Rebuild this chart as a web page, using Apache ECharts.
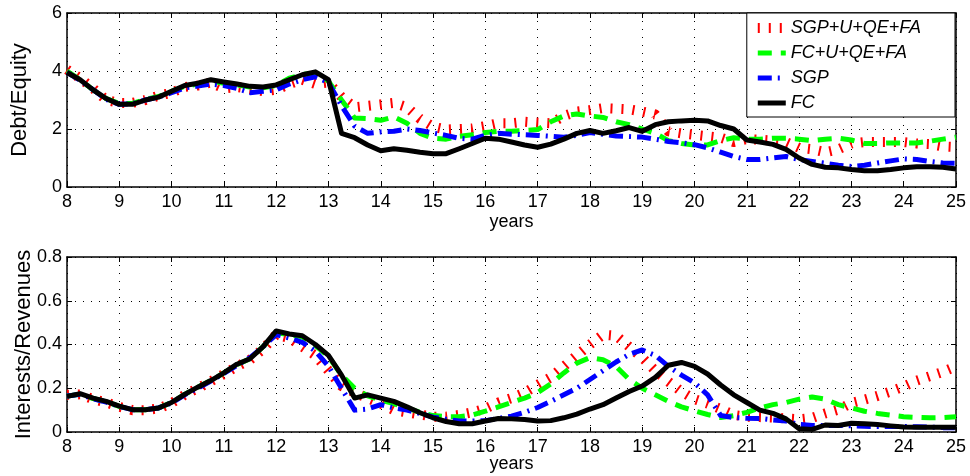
<!DOCTYPE html>
<html>
<head>
<meta charset="utf-8">
<script src="https://cdn.jsdelivr.net/npm/echarts@6/dist/echarts.min.js"></script>
<style>
  html, body { margin: 0; padding: 0; background: #fff; }
  #chart { width: 970px; height: 476px; }
</style>
</head>
<body>
<div id="chart"></div>
<script>
// years 8 .. 25, step 0.25
const years = []
for (let k = 0; k <= 68; k++) years.push(8 + k * 0.25)

const seriesNames = ['SGP+U+QE+FA', 'FC+U+QE+FA', 'SGP', 'FC']

// Debt/Equity (upper panel)
const debtSgpUqeFa = [4.05, 3.75, 3.4, 3.0, 2.9, 2.9, 3.0, 3.15, 3.25, 3.45, 3.5, 3.6, 3.4, 3.45, 3.38, 3.3, 3.35, 3.55, 3.7, 3.55,
  3.6, 3.1, 2.75, 2.8, 2.85, 2.9, 2.75, 2.35, 2.08, 1.98, 2.0, 2.02, 2.1, 2.2, 2.2, 2.25, 2.22, 2.2, 2.45, 2.6,
  2.65, 2.72, 2.7, 2.68, 2.6, 2.5, 1.92, 1.85, 1.8, 1.75, 1.7, 1.55, 1.65, 1.63, 1.6, 1.55, 1.35, 1.3, 1.2, 1.3,
  1.5, 1.55, 1.55, 1.55, 1.55, 1.5, 1.48, 1.4, 1.38]
const debtFcUqeFa = [4.0, 3.7, 3.35, 3.05, 2.88, 2.88, 3.02, 3.12, 3.3, 3.47, 3.55, 3.65, 3.58, 3.52, 3.45, 3.42, 3.5, 3.75, 3.88, 3.92,
  3.65, 3.0, 2.38, 2.36, 2.3, 2.42, 2.2, 1.85, 1.68, 1.65, 1.75, 1.8, 1.88, 1.92, 1.92, 1.95, 1.98, 2.25, 2.45, 2.52,
  2.45, 2.4, 2.25, 2.15, 2.0, 1.85, 1.6, 1.5, 1.45, 1.45, 1.6, 1.7, 1.65, 1.65, 1.68, 1.68, 1.65, 1.6, 1.65, 1.68,
  1.62, 1.5, 1.5, 1.52, 1.52, 1.52, 1.58, 1.65, 1.72]
const debtSgp = [3.95, 3.68, 3.35, 3.02, 2.85, 2.87, 3.0, 3.1, 3.25, 3.42, 3.48, 3.55, 3.5, 3.4, 3.25, 3.3, 3.35, 3.55, 3.7, 3.8,
  3.6, 2.8, 2.1, 1.85, 1.9, 1.92, 2.0, 1.95, 1.86, 1.78, 1.68, 1.65, 1.78, 1.85, 1.82, 1.8, 1.78, 1.75, 1.72, 1.78,
  1.88, 1.82, 1.76, 1.74, 1.72, 1.65, 1.57, 1.52, 1.46, 1.35, 1.2, 1.05, 0.95, 0.95, 1.0, 1.05, 0.95, 0.88, 0.82, 0.75,
  0.71, 0.75, 0.83, 0.9, 0.97, 0.95, 0.88, 0.83, 0.82]
const debtFc = [3.95, 3.7, 3.35, 3.05, 2.85, 2.85, 3.0, 3.1, 3.3, 3.5, 3.58, 3.7, 3.62, 3.55, 3.47, 3.45, 3.52, 3.7, 3.87, 3.97,
  3.7, 1.85, 1.7, 1.45, 1.25, 1.32, 1.27, 1.2, 1.15, 1.15, 1.32, 1.5, 1.68, 1.65, 1.55, 1.45, 1.37, 1.48, 1.65, 1.85,
  1.95, 1.85, 1.94, 2.05, 1.92, 2.15, 2.25, 2.28, 2.3, 2.28, 2.12, 2.0, 1.62, 1.55, 1.47, 1.3, 1.0, 0.78, 0.68, 0.66,
  0.6, 0.56, 0.56, 0.6, 0.66, 0.7, 0.7, 0.68, 0.62]

// Interests/Revenues (lower panel)
const intSgpUqeFa = [0.17, 0.172, 0.15, 0.135, 0.115, 0.1, 0.1, 0.108, 0.132, 0.17, 0.2, 0.232, 0.265, 0.3, 0.33, 0.38, 0.445, 0.43, 0.39, 0.35,
  0.28, 0.21, 0.18, 0.155, 0.13, 0.1, 0.09, 0.08, 0.07, 0.07, 0.078, 0.09, 0.107, 0.135, 0.155, 0.18, 0.215, 0.25, 0.3, 0.35,
  0.4, 0.445, 0.44, 0.39, 0.34, 0.28, 0.23, 0.185, 0.15, 0.13, 0.105, 0.078, 0.07, 0.068, 0.066, 0.062, 0.058, 0.065, 0.085, 0.102,
  0.133, 0.148, 0.165, 0.185, 0.208, 0.235, 0.255, 0.275, 0.3]
const intFcUqeFa = [0.165, 0.172, 0.153, 0.138, 0.117, 0.102, 0.102, 0.11, 0.135, 0.172, 0.205, 0.235, 0.27, 0.308, 0.335, 0.39, 0.455, 0.445, 0.435, 0.395,
  0.345, 0.26, 0.2, 0.165, 0.145, 0.13, 0.11, 0.09, 0.075, 0.07, 0.07, 0.078, 0.095, 0.115, 0.135, 0.155, 0.18, 0.22, 0.27, 0.315,
  0.34, 0.33, 0.3, 0.24, 0.2, 0.17, 0.14, 0.115, 0.097, 0.08, 0.066, 0.075, 0.09, 0.11, 0.125, 0.135, 0.15, 0.16, 0.15, 0.125,
  0.11, 0.095, 0.085, 0.077, 0.07, 0.067, 0.065, 0.066, 0.07]
const intSgp = [0.165, 0.172, 0.152, 0.137, 0.117, 0.102, 0.102, 0.11, 0.133, 0.17, 0.2, 0.233, 0.268, 0.305, 0.34, 0.39, 0.445, 0.43, 0.41, 0.37,
  0.3, 0.2, 0.1, 0.105, 0.125, 0.11, 0.1, 0.085, 0.068, 0.058, 0.05, 0.05, 0.052, 0.062, 0.072, 0.09, 0.112, 0.14, 0.17, 0.2,
  0.24, 0.28, 0.32, 0.355, 0.375, 0.35, 0.3, 0.26, 0.225, 0.17, 0.075, 0.066, 0.063, 0.062, 0.055, 0.05, 0.035, 0.03, 0.03, 0.03,
  0.028, 0.026, 0.025, 0.025, 0.025, 0.024, 0.022, 0.02, 0.02]
const intFc = [0.163, 0.175, 0.155, 0.14, 0.118, 0.102, 0.102, 0.11, 0.135, 0.172, 0.205, 0.235, 0.27, 0.31, 0.335, 0.39, 0.462, 0.448, 0.44, 0.4,
  0.35, 0.26, 0.155, 0.17, 0.155, 0.14, 0.115, 0.088, 0.065, 0.048, 0.038, 0.038, 0.05, 0.062, 0.06, 0.057, 0.05, 0.052, 0.065, 0.082,
  0.105, 0.125, 0.155, 0.185, 0.21, 0.25, 0.305, 0.318, 0.3, 0.265, 0.215, 0.17, 0.135, 0.1, 0.085, 0.06, 0.015, 0.012, 0.032, 0.03,
  0.04, 0.038, 0.034, 0.028, 0.023, 0.022, 0.022, 0.022, 0.022]

const xTicks = { min: 8, max: 25, interval: 1 }
const debtTicks = { min: 0, max: 6, interval: 2 }
const intTicks = { min: 0, max: 0.8, interval: 0.2 }

const font = 'Liberation Sans, Arial, sans-serif'

const styles = [
  { color: '#ff0000', width: 10, type: [2, 9] },
  { color: '#00ff00', width: 5, type: [14, 9] },
  { color: '#0000ff', width: 5, type: [14, 6, 2, 6] },
  { color: '#000000', width: 5, type: 'solid' },
]

const pair = (vals) => years.map((x, i) => [x, vals[i]])

const makeX = (gridIndex, pos, withLabels, gap) => ({
  type: 'value',
  gridIndex,
  position: pos,
  min: xTicks.min,
  max: xTicks.max,
  interval: xTicks.interval,
  name: withLabels ? 'years' : '',
  nameLocation: 'middle',
  nameGap: gap,
  nameMoveOverlap: false,
  nameTextStyle: { fontFamily: font, fontSize: 18, color: '#000' },
  axisLine: { show: true, onZero: false, lineStyle: { color: '#000', width: 1.5 } },
  axisTick: { show: true, inside: true, length: 5, lineStyle: { color: '#000', width: 1 } },
  axisLabel: { show: withLabels, fontFamily: font, fontSize: 18, color: '#000', margin: 6 },
  splitLine: { show: withLabels, lineStyle: { color: '#000', width: 1, type: [1, 7] } },
})

const makeY = (gridIndex, pos, ticks, name, withLabels, gap) => ({
  type: 'value',
  gridIndex,
  position: pos,
  min: ticks.min,
  max: ticks.max,
  interval: ticks.interval,
  name: withLabels ? name : '',
  nameLocation: 'middle',
  nameGap: gap,
  nameMoveOverlap: false,
  nameTextStyle: { fontFamily: font, fontSize: 22, color: '#000' },
  axisLine: { show: true, lineStyle: { color: '#000', width: 1.5 } },
  axisTick: { show: true, inside: true, length: 5, lineStyle: { color: '#000', width: 1 } },
  axisLabel: { show: withLabels, fontFamily: font, fontSize: 18, color: '#000', margin: 5 },
  splitLine: { show: withLabels, lineStyle: { color: '#000', width: 1, type: [1, 7] } },
})

const panels = [
  [debtSgpUqeFa, debtFcUqeFa, debtSgp, debtFc],
  [intSgpUqeFa, intFcUqeFa, intSgp, intFc],
]

const series = []
panels.forEach((arrs, p) => {
  arrs.forEach((vals, s) => {
    series.push({
      name: seriesNames[s],
      type: 'line',
      xAxisIndex: p * 2,
      yAxisIndex: p * 2,
      data: pair(vals),
      symbol: 'none',
      showSymbol: false,
      lineStyle: { color: styles[s].color, width: styles[s].width, type: styles[s].type, cap: 'butt', join: 'round' },
      itemStyle: { color: styles[s].color },
      z: 2 + s,
    })
  })
})

const legendData = seriesNames.map((name, s) => ({
  name,
  itemStyle: { opacity: 0 },
  lineStyle: { color: styles[s].color, width: styles[s].width, type: styles[s].type, cap: 'butt' },
}))

const chart = echarts.init(document.getElementById('chart'), null, { renderer: 'canvas' })

chart.setOption({
  animation: false,
  backgroundColor: '#fff',
  grid: [
    { left: 67, right: 14, top: 13, height: 174 },
    { left: 67, right: 14, top: 257, height: 175 },
  ],
  xAxis: [
    makeX(0, 'bottom', true, 26),
    makeX(0, 'top', false, 0),
    makeX(1, 'bottom', true, 23),
    makeX(1, 'top', false, 0),
  ],
  yAxis: [
    makeY(0, 'left', debtTicks, 'Debt/Equity', true, 36),
    makeY(0, 'right', debtTicks, '', false, 0),
    makeY(1, 'left', intTicks, 'Interests/Revenues', true, 32),
    makeY(1, 'right', intTicks, '', false, 0),
  ],
  legend: {
    data: legendData,
    orient: 'vertical',
    right: 15,
    top: 13,
    padding: [6, 34, 5, 6],
    itemGap: 7,
    itemWidth: 28,
    itemHeight: 12,
    backgroundColor: '#fff',
    borderColor: '#000',
    borderWidth: 1,
    borderRadius: 0,
    selectedMode: false,
    itemStyle: { opacity: 0 },
    textStyle: { fontFamily: font, fontSize: 18, fontStyle: 'italic', color: '#000', padding: [0, 0, 0, 0] },
  },
  series,
})
</script>
</body>
</html>
